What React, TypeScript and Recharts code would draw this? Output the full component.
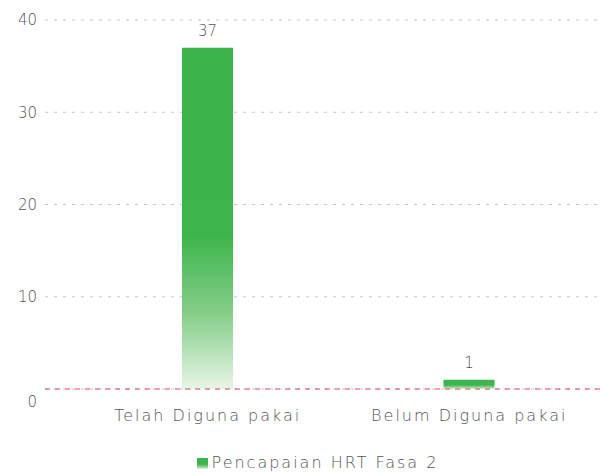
import React from "react";
import { BarChart, Bar, XAxis, YAxis, CartesianGrid, Legend, ReferenceLine, LabelList } from "recharts";

const categories = ["Telah Diguna pakai", "Belum Diguna pakai"];
const values = [37, 1];
const yTicks = [0, 10, 20, 30, 40];
const seriesName = "Pencapaian HRT Fasa 2";

const data = categories.map((c, i) => ({ name: c, value: values[i] }));

const FONT = "'DejaVu Sans', sans-serif";
const TEXT = "#555";

const YTick = (props: any) => {
  const { x, y, payload } = props;
  const dy = payload.value === 0 ? 13 : 0;
  return (
    <text x={x} y={y + dy} dy="0.355em" textAnchor="end" fill={TEXT} fontSize={15} fontFamily={FONT} fontWeight={200}>
      {payload.value}
    </text>
  );
};

export default function App() {
  return (
    <div style={{ position: "absolute", left: 0, top: 0, background: "#fff" }}>
      <BarChart width={600} height={473} data={data} margin={{ top: 20, right: 0, left: 0, bottom: 1 }}>
        <defs>
          <linearGradient id="barGrad" x1="0" y1="0" x2="0" y2="1">
            <stop offset="0%" stopColor="#3cb44b" />
            <stop offset="55%" stopColor="#3eb54c" />
            <stop offset="78%" stopColor="#86ce8a" />
            <stop offset="100%" stopColor="#e8f5e8" />
          </linearGradient>
        </defs>
        <CartesianGrid vertical={false} stroke="#c8c8c8" strokeDasharray="3 6" />
        <XAxis
          dataKey="name"
          axisLine={false}
          tickLine={false}
          height={64}
          tickMargin={15}
          padding={{ left: 32, right: 0 }}
          tick={{ fill: TEXT, fontSize: 16, fontFamily: FONT, fontWeight: 200, letterSpacing: 2 } as any}
          interval={0}
        />
        <YAxis
          width={45}
          domain={[0, 40]}
          ticks={yTicks}
          axisLine={false}
          tickLine={false}
          tick={<YTick />}
        />
        <ReferenceLine y={0} stroke="#d9465a" strokeDasharray="5 5" />
        <Legend
          iconType="square"
          iconSize={11}
          wrapperStyle={{ left: 45, width: 555, fontFamily: FONT, fontSize: 16, fontWeight: 200, letterSpacing: 2, color: TEXT }}
          formatter={(v: any) => <span style={{ color: TEXT }}>{v}</span>}
        />
        <Bar dataKey="value" name={seriesName} fill="url(#barGrad)" barSize={51} isAnimationActive={false} legendType="square">
          <LabelList dataKey="value" position="top" fill={TEXT} fontSize={15} fontFamily={FONT} fontWeight={200} offset={12} />
        </Bar>
      </BarChart>
    </div>
  );
}
